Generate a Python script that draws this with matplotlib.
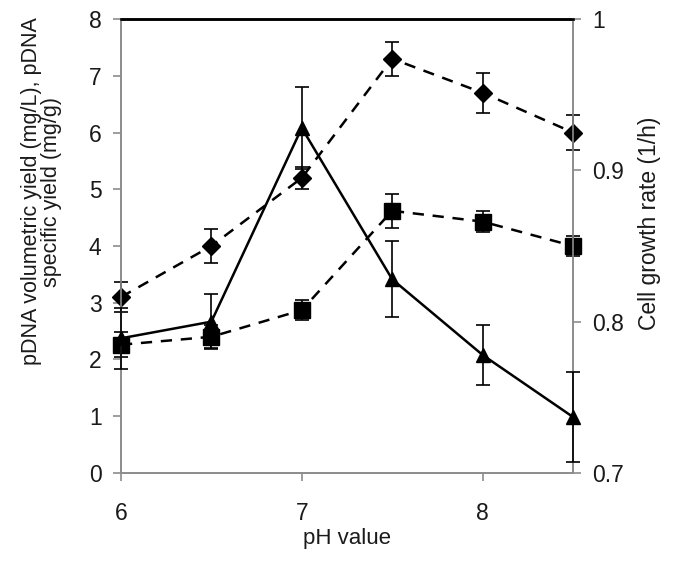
import matplotlib
matplotlib.use("Agg")
import matplotlib.pyplot as plt

plt.rcParams['font.family'] = ['Liberation Sans', 'DejaVu Sans']

ph = [6.0, 6.5, 7.0, 7.5, 8.0, 8.5]
vol_yield = [3.1, 4.0, 5.2, 7.3, 6.7, 6.0]          # diamonds
vol_err = [0.27, 0.3, 0.2, 0.3, 0.35, 0.3]
spec_yield = [2.26, 2.40, 2.87, 4.62, 4.43, 4.0]    # squares
spec_err = [0.22, 0.2, 0.18, 0.3, 0.18, 0.18]
growth = [0.789, 0.800, 0.928, 0.828, 0.778, 0.737]  # triangles, right axis
growth_err = [0.02, 0.018, 0.027, 0.025, 0.02, 0.03]

left_ticks = [0, 1, 2, 3, 4, 5, 6, 7, 8]
right_ticks = [0.7, 0.8, 0.9, 1.0]
right_tick_labels = ["0.7", "0.8", "0.9", "1"]
x_ticks = [6, 7, 8]

fig = plt.figure(figsize=(6.85, 5.61), dpi=100)
ax = fig.add_axes([0.1766, 0.1569, 0.6599, 0.8092])
ax2 = ax.twinx()

gray = '#8c8c8c'
txt = '#1a1a1a'


def unclip(cont):
    for art in cont.get_children():
        art.set_clip_on(False)


unclip(ax.errorbar(ph, vol_yield, yerr=vol_err, color='black', marker='D', ms=9.5,
                   ls=(0, (4.5, 3.5)), lw=1.8, ecolor='black', elinewidth=1.2,
                   capsize=5, capthick=1.2, zorder=3))
unclip(ax.errorbar(ph, spec_yield, yerr=spec_err, color='black', marker='s', ms=11,
                   ls=(0, (4.5, 3.5)), lw=1.8, ecolor='black', elinewidth=1.2,
                   capsize=5, capthick=1.2, zorder=3))
unclip(ax2.errorbar(ph, growth, yerr=growth_err, color='black', marker='^', ms=10,
                    ls='-', lw=1.8, ecolor='black', elinewidth=1.2,
                    capsize=5, capthick=1.2, zorder=3))

ax.set_xlim(6, 8.5)
ax.set_ylim(0, 8)
ax2.set_ylim(0.7, 1.0)
ax.set_xticks(x_ticks)
ax.set_xticklabels([str(t) for t in x_ticks])
ax.set_yticks(left_ticks)
ax.set_yticklabels([str(t) for t in left_ticks])
ax2.set_yticks(right_ticks)
ax2.set_yticklabels(right_tick_labels)

for a in (ax, ax2):
    for s in ('left', 'right', 'bottom'):
        a.spines[s].set_color(gray)
        a.spines[s].set_linewidth(1.2)
    a.spines['top'].set_color('black')
    a.spines['top'].set_linewidth(1.8)
    a.tick_params(axis='both', colors=gray, labelcolor=txt, labelsize=16.5,
                  length=6, width=1.2, pad=8, direction='out')
ax.tick_params(axis='x', pad=15)

ax.set_xlabel('pH value', fontsize=16, color=txt)
ax.xaxis.set_label_coords(0.5, -0.122)
ax.set_ylabel('pDNA volumetric yield (mg/L), pDNA\nspecific yield (mg/g)',
              fontsize=15.5, color=txt, linespacing=0.95)
ax.yaxis.set_label_coords(-0.13, 0.62)
ax2.set_ylabel('Cell growth rate (1/h)', fontsize=16.5, color=txt)
ax2.yaxis.set_label_coords(1.143, 0.55)

fig.savefig('out.png', dpi=100)
